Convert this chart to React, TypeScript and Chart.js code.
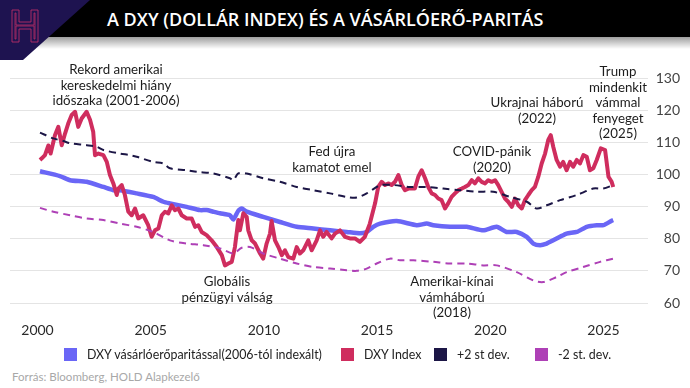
import React, { useEffect, useRef } from "react";
import { Chart, registerables } from "chart.js";

Chart.register(...registerables);

// ---------- DATA ----------
const dxyYears = [
  2000.11, 2000.19, 2000.33, 2000.48, 2000.58, 2000.77, 2000.92, 2001.07, 2001.22, 2001.36,
  2001.51, 2001.66, 2001.8, 2001.95, 2002.17, 2002.32, 2002.46, 2002.54, 2002.69, 2002.91,
  2003.06, 2003.2, 2003.35, 2003.5, 2003.57, 2003.72, 2003.86, 2004.01, 2004.16, 2004.31,
  2004.45, 2004.67, 2004.89, 2005.04, 2005.19, 2005.34, 2005.49, 2005.63, 2005.78, 2005.93,
  2006.07, 2006.22, 2006.37, 2006.59, 2006.81, 2006.96, 2007.1, 2007.25, 2007.47, 2007.69,
  2007.92, 2008.14, 2008.28, 2008.43, 2008.58, 2008.72, 2008.87, 2008.94, 2009.09, 2009.24,
  2009.31, 2009.46, 2009.61, 2009.83, 2009.97, 2010.12, 2010.27, 2010.34, 2010.49, 2010.64,
  2010.79, 2010.93, 2011.08, 2011.3, 2011.45, 2011.59, 2011.74, 2011.96, 2012.11, 2012.33,
  2012.48, 2012.62, 2012.77, 2012.99, 2013.14, 2013.36, 2013.58, 2013.8, 2014.02, 2014.24,
  2014.46, 2014.68, 2014.91, 2015.05, 2015.2, 2015.35, 2015.49, 2015.64, 2015.79, 2015.94,
  2016.09, 2016.23, 2016.38, 2016.53, 2016.67, 2016.82, 2016.97, 2017.12, 2017.26, 2017.41,
  2017.56, 2017.7, 2017.85, 2018.0, 2018.14, 2018.29, 2018.44, 2018.59, 2018.74, 2018.88,
  2019.03, 2019.18, 2019.32, 2019.47, 2019.62, 2019.77, 2019.91, 2020.06, 2020.21, 2020.35,
  2020.5, 2020.65, 2020.79, 2020.95, 2021.09, 2021.24, 2021.39, 2021.53, 2021.68, 2021.83,
  2021.97, 2022.12, 2022.27, 2022.42, 2022.56, 2022.67, 2022.78, 2022.93, 2023.08, 2023.22,
  2023.37, 2023.52, 2023.66, 2023.82, 2023.96, 2024.11, 2024.26, 2024.4, 2024.55, 2024.7,
  2024.88, 2025.07, 2025.22, 2025.36, 2025.43,
];
const dxyValues = [
  104.5, 105.0, 106.0, 109.0, 106.5, 112.2, 114.8, 109.1, 112.8, 115.9,
  118.5, 119.5, 114.8, 117.4, 119.5, 117.0, 113.3, 106.0, 106.5, 106.0,
  103.9, 99.8, 97.2, 93.6, 95.6, 96.7, 93.6, 88.4, 87.3, 89.4,
  86.3, 87.3, 84.2, 80.6, 82.6, 83.2, 87.3, 88.4, 87.9, 90.4,
  88.9, 89.4, 87.3, 86.3, 86.3, 83.7, 84.2, 82.1, 81.1, 79.5,
  77.4, 74.9, 71.7, 72.3, 72.8, 77.4, 85.8, 82.6, 87.9, 86.8,
  82.6, 79.5, 78.5, 75.4, 73.8, 78.5, 81.6, 85.5, 79.5, 77.4,
  74.9, 76.4, 74.3, 73.8, 77.4, 75.4, 76.4, 79.5, 76.4, 79.5,
  82.6, 80.6, 82.1, 80.1, 81.6, 82.6, 80.6, 80.1, 80.1, 79.0,
  80.6, 84.7, 91.0, 96.1, 97.7, 96.7, 97.2, 96.7, 97.7, 99.8,
  96.7, 95.1, 95.6, 95.6, 95.6, 99.3, 101.3, 98.8, 96.1, 94.1,
  93.6, 92.5, 92.0, 89.4, 91.0, 93.0, 94.1, 95.1, 95.6, 96.1,
  96.7, 98.2, 97.2, 98.8, 97.7, 97.2, 98.2, 97.7, 98.2, 96.7,
  94.6, 92.5, 91.5, 89.9, 92.5, 90.4, 89.4, 92.0, 93.6, 95.1,
  96.1, 99.3, 103.4, 106.5, 110.7, 112.2, 108.6, 104.5, 102.4, 103.9,
  101.3, 103.9, 102.4, 104.5, 103.4, 106.0, 105.5, 101.3, 101.9, 104.5,
  108.1, 107.6, 99.3, 97.7, 96.1,
];

const pppYears = [
  2000.11, 2000.99, 2001.44, 2002.17, 2002.91, 2003.35, 2003.64, 2004.38, 2005.11, 2005.56,
  2005.85, 2006.59, 2007.18, 2007.47, 2007.76, 2008.06, 2008.5, 2008.65, 2008.87, 2009.02,
  2009.24, 2009.97, 2010.71, 2011.45, 2012.18, 2012.92, 2013.66, 2014.24, 2014.54, 2014.83,
  2015.13, 2015.87, 2016.75, 2017.19, 2017.48, 2018.22, 2018.96, 2019.69, 2020.28, 2020.72,
  2021.17, 2021.61, 2021.9, 2022.2, 2022.49, 2022.78, 2023.08, 2023.37, 2023.82, 2024.26,
  2024.7, 2024.99, 2025.36, 2025.43,
];
const pppValues = [
  101.0, 99.5, 98.2, 97.7, 96.1, 95.1, 95.1, 94.1, 93.0, 91.5,
  91.0, 89.9, 88.9, 88.9, 88.4, 87.9, 87.3, 86.0, 88.7, 89.4,
  88.4, 86.8, 85.2, 83.7, 83.2, 82.6, 82.1, 81.7, 82.1, 83.7,
  84.7, 85.5, 84.2, 84.7, 84.2, 83.7, 83.7, 82.6, 83.7, 82.1,
  82.1, 80.6, 78.5, 78.0, 78.5, 79.5, 80.6, 81.6, 82.1, 83.7,
  84.2, 84.2, 85.6, 85.8,
];

const upperYears = [
  2000.11, 2000.7, 2001.14, 2001.44, 2002.17, 2002.61, 2002.91, 2003.64, 2004.09, 2004.38,
  2005.11, 2005.56, 2005.85, 2006.59, 2007.03, 2007.76, 2008.5, 2008.65, 2008.87, 2009.24,
  2009.97, 2010.71, 2011.45, 2012.18, 2012.92, 2013.66, 2014.1, 2014.54, 2014.98, 2015.13,
  2015.72, 2016.45, 2017.19, 2017.92, 2018.66, 2019.4, 2020.13, 2020.87, 2021.61, 2022.05,
  2022.49, 2023.08, 2023.82, 2024.55, 2024.99, 2025.43,
];
const upperValues = [
  113.0, 111.2, 110.4, 109.7, 109.1, 108.6, 107.6, 106.5, 106.0, 105.5,
  103.9, 103.4, 101.9, 101.3, 100.8, 100.3, 98.8, 98.2, 100.3, 100.3,
  98.8, 97.7, 96.1, 95.1, 94.1, 93.0, 92.8, 94.1, 96.1, 96.7,
  96.7, 96.1, 96.1, 95.6, 95.1, 94.6, 94.6, 93.0, 91.5, 89.4,
  90.4, 92.0, 93.6, 95.6, 95.6, 96.7,
];

const lowerYears = [
  2000.11, 2000.7, 2001.44, 2002.17, 2002.91, 2003.64, 2004.38, 2005.11, 2005.85, 2006.59,
  2007.32, 2008.06, 2008.65, 2009.02, 2009.39, 2009.97, 2010.71, 2011.45, 2012.18, 2012.92,
  2013.66, 2014.1, 2014.54, 2014.98, 2015.57, 2016.01, 2016.6, 2017.48, 2018.22, 2018.96,
  2019.69, 2020.28, 2021.17, 2021.9, 2022.34, 2022.93, 2023.37, 2024.1, 2024.85, 2025.43,
];
const lowerValues = [
  89.6, 88.4, 87.3, 86.3, 85.8, 84.7, 83.7, 82.1, 79.5, 78.5,
  78.0, 77.0, 75.4, 77.2, 77.4, 75.4, 73.8, 72.3, 71.2, 70.7,
  70.2, 70.0, 70.7, 72.3, 73.8, 73.3, 73.3, 72.8, 72.3, 72.3,
  71.7, 71.7, 69.6, 67.0, 66.5, 68.1, 69.6, 71.2, 72.8, 73.8,
];

const xTickYears = [2000, 2005, 2010, 2015, 2020, 2025];
const yTickValues = [60, 70, 80, 90, 100, 110, 120, 130];

const seriesLabels = [
  "DXY vásárlóerőparitással(2006-tól indexált)",
  "DXY Index",
  "+2 st dev.",
  "-2 st. dev.",
];
const seriesColors = ["#6a66f6", "#cf2d5e", "#1c1646", "#ae40b6"];

const titleText = "A DXY (DOLLÁR INDEX) ÉS A VÁSÁRLÓERŐ-PARITÁS";
const sourceText = "Forrás: Bloomberg, HOLD Alapkezelő";

const annotations = [
  { lines: ["Rekord amerikai", "kereskedelmi hiány", "időszaka (2001-2006)"], cx: 116, top: 62 },
  { lines: ["Globális", "pénzügyi válság"], cx: 227, top: 274 },
  { lines: ["Fed újra", "kamatot emel"], cx: 332, top: 144 },
  { lines: ["COVID-pánik", "(2020)"], cx: 492, top: 144 },
  { lines: ["Ukrajnai háború", "(2022)"], cx: 537, top: 95 },
  { lines: ["Amerikai-kínai", "vámháború", "(2018)"], cx: 452, top: 274 },
  { lines: ["Trump", "mindenkit", "vámmal", "fenyeget", "(2025)"], cx: 618, top: 64 },
];

// legend item left positions (layout only)
const legendBoxX = [64, 341, 434, 535];

const zip = (xs: number[], ys: number[]) => xs.map((x, i) => ({ x, y: ys[i] }));

const FONT = "Lato, 'Open Sans', sans-serif";

export default function App() {
  const canvasRef = useRef<HTMLCanvasElement | null>(null);

  useEffect(() => {
    document.body.style.margin = "0";
    const canvas = canvasRef.current;
    if (!canvas) return;
    const chart = new Chart(canvas, {
      type: "line",
      data: {
        datasets: [
          {
            label: seriesLabels[2],
            data: zip(upperYears, upperValues),
            borderColor: seriesColors[2],
            borderWidth: 2,
            borderDash: [7, 5],
            pointRadius: 0,
            tension: 0.3,
          },
          {
            label: seriesLabels[3],
            data: zip(lowerYears, lowerValues),
            borderColor: seriesColors[3],
            borderWidth: 2,
            borderDash: [7, 5],
            pointRadius: 0,
            tension: 0.3,
          },
          {
            label: seriesLabels[1],
            data: zip(dxyYears, dxyValues),
            borderColor: seriesColors[1],
            borderWidth: 4,
            pointRadius: 0,
            tension: 0,
            borderJoinStyle: "round",
          },
          {
            label: seriesLabels[0],
            data: zip(pppYears, pppValues),
            borderColor: seriesColors[0],
            borderWidth: 4.5,
            pointRadius: 0,
            tension: 0.2,
            borderJoinStyle: "round",
          },
        ],
      },
      options: {
        animation: false,
        responsive: false,
        maintainAspectRatio: false,
        layout: { padding: { top: 28, left: 10, right: 10, bottom: 0 } },
        plugins: { legend: { display: false }, tooltip: { enabled: false } },
        scales: {
          x: {
            type: "linear",
            min: 2000 - 27.5 / 22.64,
            max: 2000 + 610.5 / 22.64,
            grid: { display: false, drawTicks: false },
            border: { display: false },
            afterBuildTicks: (s: any) => {
              s.ticks = xTickYears.map((v) => ({ value: v }));
            },
            afterFit: (s: any) => {
              s.height = 47;
            },
            ticks: {
              padding: 19,
              color: "#2a2a2a",
              font: { family: FONT, size: 14 },
              maxRotation: 0,
              autoSkip: false,
              callback: (v: any) => String(v),
            },
          },
          y: {
            position: "right",
            min: 60,
            max: 130,
            afterBuildTicks: (s: any) => {
              s.ticks = yTickValues.map((v) => ({ value: v }));
            },
            afterFit: (s: any) => {
              s.width = 32;
            },
            grid: { color: "#e4e4e4", lineWidth: 1, drawTicks: false },
            border: { display: false },
            ticks: {
              padding: 7,
              crossAlign: "far",
              color: "#444",
              font: { family: FONT, size: 14 },
            },
          },
        },
      },
    });
    return () => chart.destroy();
  }, []);

  return (
    <div
      style={{
        position: "fixed",
        left: 0,
        top: 0,
        width: 690,
        height: 388,
        background: "#fff",
        overflow: "hidden",
        fontFamily: FONT,
      }}
    >
      {/* header band */}
      <div style={{ position: "absolute", left: 0, top: 0, width: 690, height: 37, background: "#000" }} />
      <div
        style={{
          position: "absolute",
          left: 0,
          top: 37,
          width: 690,
          height: 12,
          background: "linear-gradient(to bottom, rgba(0,0,0,0.38), rgba(0,0,0,0))",
        }}
      />
      <svg style={{ position: "absolute", left: 0, top: 0 }} width={100} height={64}>
        <polygon points="0,0 90,0 23,60 0,60" fill="#1e1350" />
      </svg>
      <svg style={{ position: "absolute", left: 10, top: 8 }} width={30} height={36}>
        <path
          d="M2,2 H9 V14 H21 V2 H28 V34 H21 V21 H9 V34 H2 Z"
          fill="none"
          stroke="#b82e66"
          strokeWidth={0.9}
        />
        <path
          d="M5,5 H6 V17 H24 V5 H25 V31 H24 V18 H6 V31 H5 Z"
          fill="none"
          stroke="#b82e66"
          strokeWidth={0.8}
        />
      </svg>
      <div
        style={{
          position: "absolute",
          left: 107,
          top: 6,
          color: "#fff",
          fontFamily: "'Open Sans', sans-serif",
          fontWeight: 600,
          fontSize: 18,
          lineHeight: "26px",
          whiteSpace: "nowrap",
        }}
      >
        {titleText}
      </div>

      <canvas
        ref={canvasRef}
        width={690}
        height={300}
        style={{ position: "absolute", left: 0, top: 50, width: 690, height: 300, display: "block" }}
      />

      {annotations.map((a, i) => (
        <div
          key={i}
          style={{
            position: "absolute",
            left: a.cx,
            top: a.top,
            transform: "translateX(-50%)",
            textAlign: "center",
            whiteSpace: "nowrap",
            fontSize: 13.3,
            lineHeight: "15.6px",
            color: "#1c1c1c",
          }}
        >
          {a.lines.map((l, j) => (
            <div key={j}>{l}</div>
          ))}
        </div>
      ))}

      {/* legend */}
      {seriesLabels.map((l, i) => (
        <div
          key={i}
          style={{
            position: "absolute",
            left: legendBoxX[i],
            top: 346,
            height: 17,
            display: "flex",
            alignItems: "center",
            fontSize: 12.4,
            color: "#222",
            whiteSpace: "nowrap",
          }}
        >
          <div style={{ width: 13, height: 13, background: seriesColors[i], marginRight: 10 }} />
          <span>{l}</span>
        </div>
      ))}

      <div
        style={{
          position: "absolute",
          left: 12,
          top: 370,
          fontSize: 11.5,
          color: "#a8a8a8",
          whiteSpace: "nowrap",
        }}
      >
        {sourceText}
      </div>
    </div>
  );
}
